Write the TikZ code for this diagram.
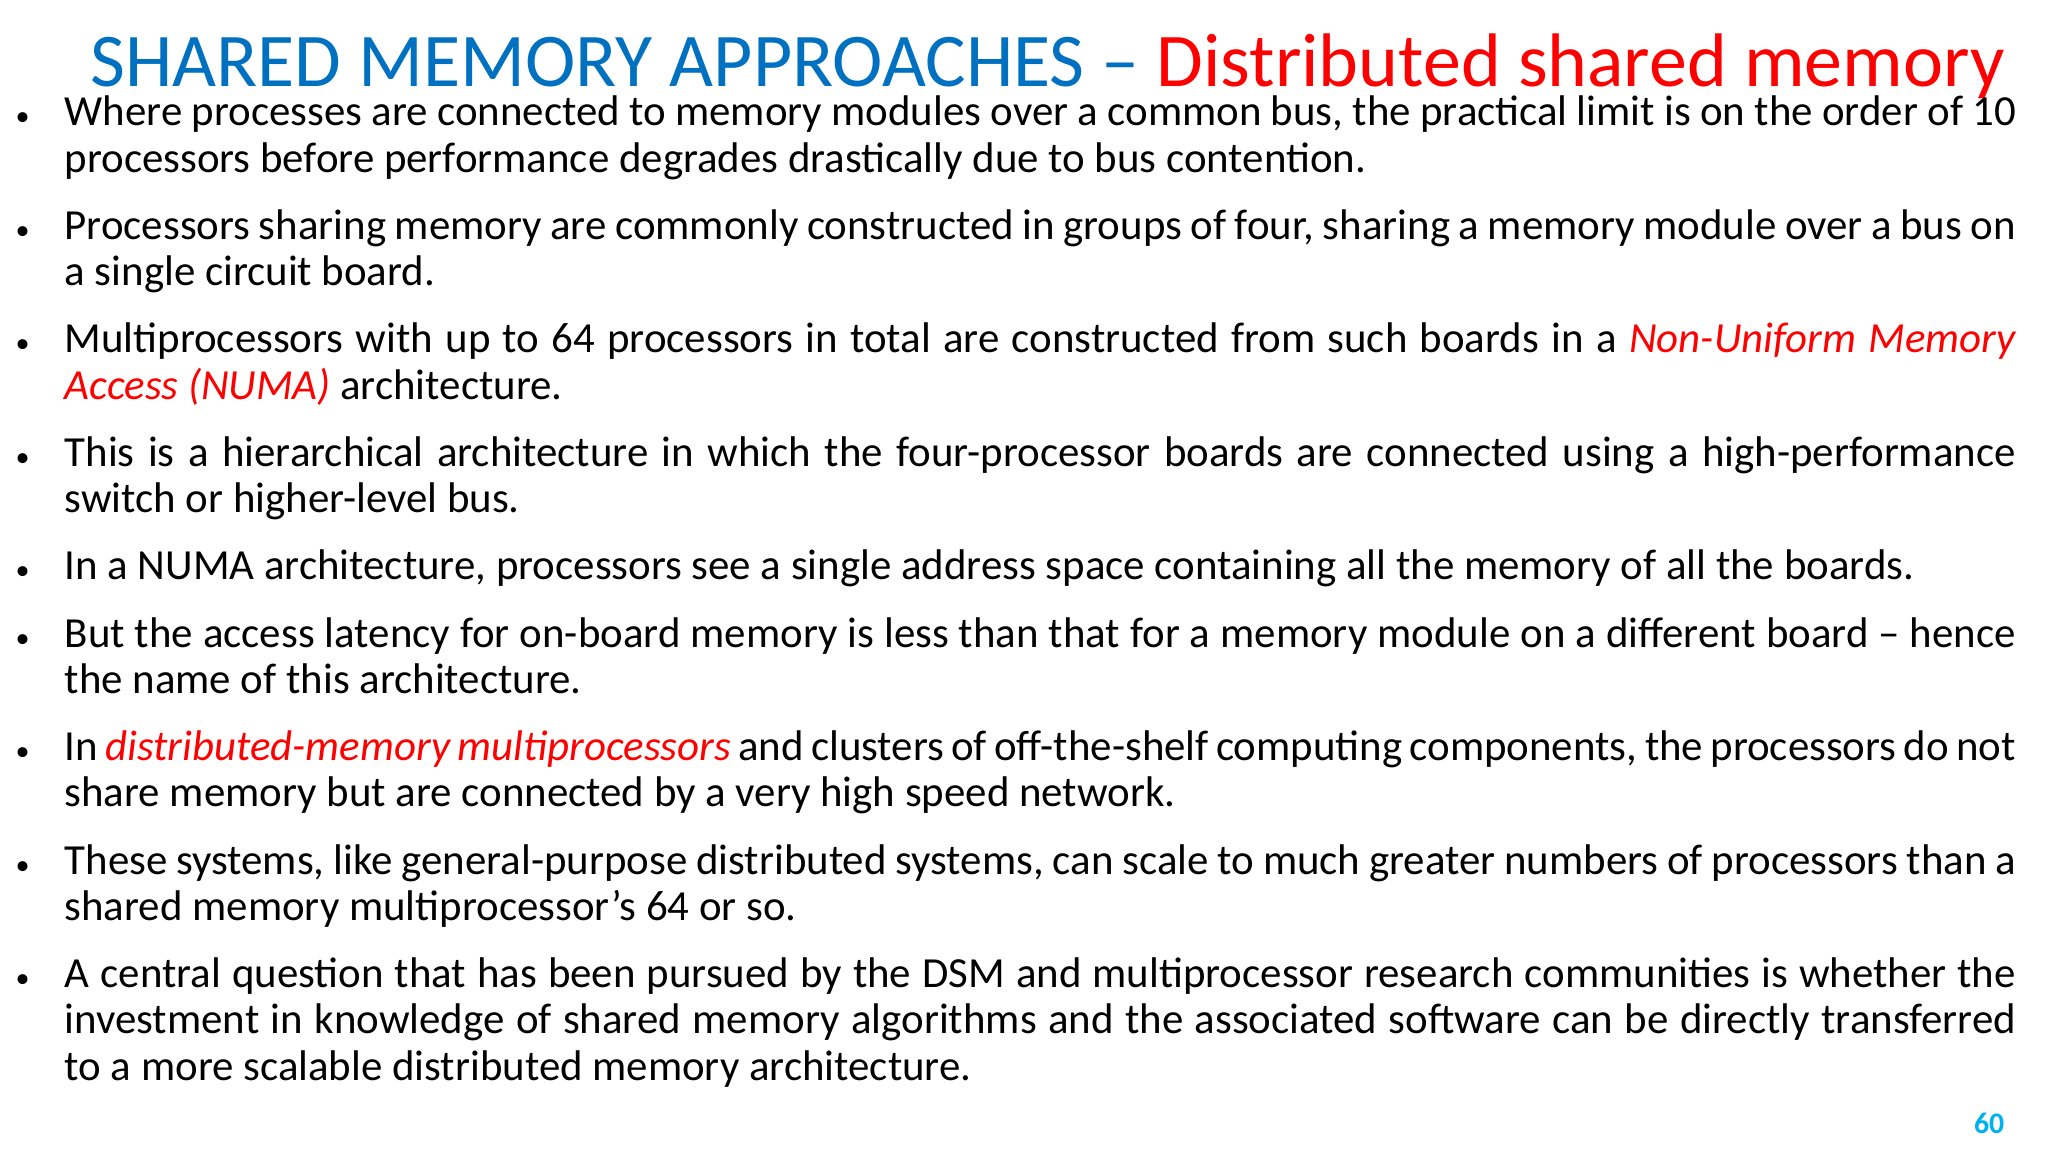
\documentclass[tikz,border=0pt]{standalone}
\usepackage{fontspec}
\setmainfont{Carlito}
\definecolor{tblue}{RGB}{0,112,192}
\definecolor{tred}{RGB}{255,0,0}
\definecolor{pnum}{RGB}{0,176,240}
\begin{document}
\begin{tikzpicture}[x=0.013061cm,y=-0.013061cm,
  body/.style={inner sep=0pt,anchor=north west,text width=1494*0.013061cm,align=justify,font=\fontsize{12.2pt}{13.2pt}\selectfont}]
\useasboundingbox (0,0) rectangle (1568,882);
\node[inner sep=0pt,anchor=base] (title) at (802,66) {\fontsize{21.6pt}{26pt}\selectfont\textcolor{tblue}{SHARED MEMORY APPROACHES –} \textcolor{tred}{Distributed shared memory}};
\node[body] (txt) at (49,73) {%
\setlength{\parskip}{5.9pt}\setlength{\parindent}{0pt}%
\newcommand\bl{\leavevmode\llap{{\footnotesize\textbullet}\hspace{10pt}}}%
\bl Where processes are connected to memory modules over a common bus, the practical limit is on the order of 10 processors before performance degrades drastically due to bus contention.\par
\bl Processors sharing memory are commonly constructed in groups of four, sharing a memory module over a bus on a single circuit board.\par
\bl Multiprocessors with up to 64 processors in total are constructed from such boards in a \textcolor{tred}{\itshape Non-Uniform Memory Access (NUMA)} architecture.\par
\bl This is a hierarchical architecture in which the four-processor boards are connected using a high-performance switch or higher-level bus.\par
\bl In a NUMA architecture, processors see a single address space containing all the memory of all the boards.\par
\bl But the access latency for on-board memory is less than that for a memory module on a different board – hence the name of this architecture.\par
\bl In \textcolor{tred}{\itshape distributed-memory multiprocessors} and clusters of off-the-shelf computing components, the processors do not share memory but are connected by a very high speed network.\par
\bl These systems, like general-purpose distributed systems, can scale to much greater numbers of processors than a shared memory multiprocessor’s 64 or so.\par
\bl A central question that has been pursued by the DSM and multiprocessor research communities is whether the investment in knowledge of shared memory algorithms and the associated software can be directly transferred to a more scalable distributed memory architecture.\par};
\node[inner sep=0pt,anchor=base] (pg) at (1523,868) {\fontsize{8.5pt}{10pt}\selectfont\bfseries\textcolor{pnum}{60}};
\end{tikzpicture}
\end{document}
